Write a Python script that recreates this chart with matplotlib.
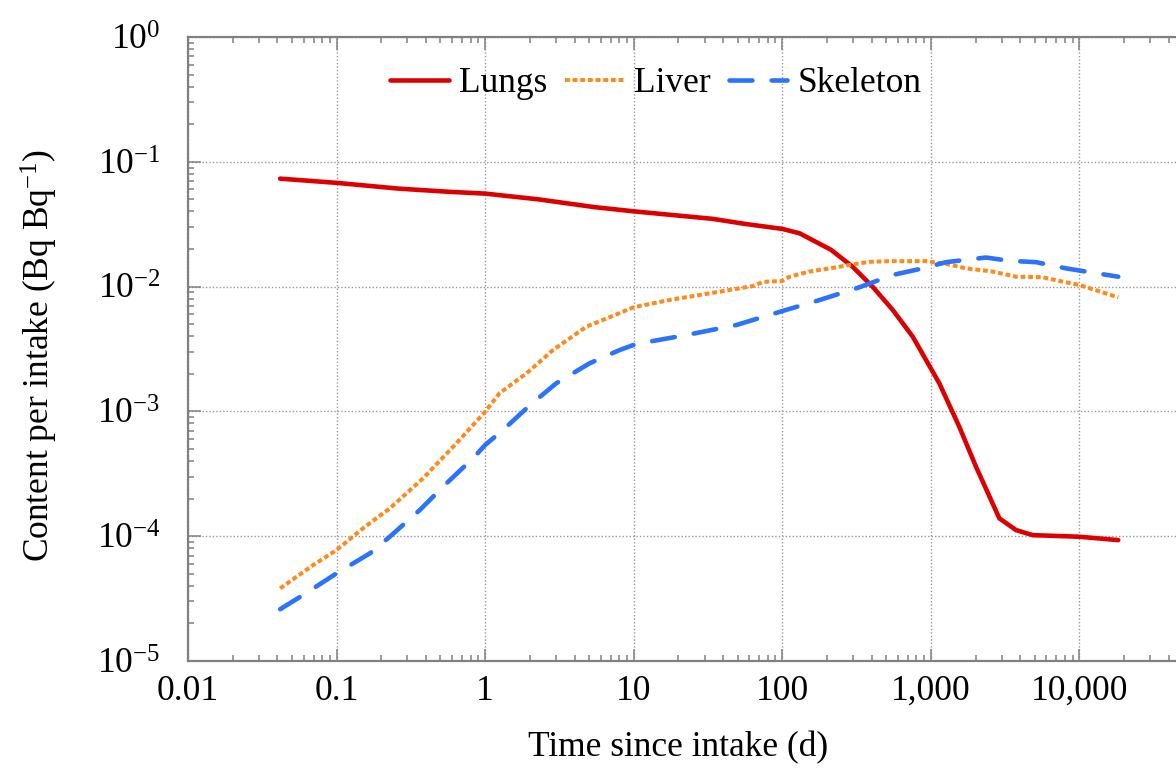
"""Retention of an inhaled radionuclide in lungs, liver and skeleton.

Log-log plot of content per unit intake against time since intake.
Writes out.png (1176x768).
"""
import matplotlib
matplotlib.use("Agg")
import matplotlib.pyplot as plt
from matplotlib.ticker import FixedLocator, FixedFormatter, LogLocator, NullFormatter

# --- Data ---
# time since intake in days, content per intake in Bq/Bq
lungs_t = [0.0417, 0.1, 0.26, 0.57, 1.0, 2.26, 5.46, 10, 34, 56, 100, 131, 213, 298,
           406, 554, 755, 1140, 1556, 2014, 2891, 3743, 4842, 10000, 18250]
lungs_v = [0.0733, 0.0678, 0.061, 0.0575, 0.0556, 0.0501, 0.0433, 0.0401, 0.0349, 0.0318,
           0.029, 0.0267, 0.0197, 0.0144, 0.00996, 0.0065, 0.00397, 0.00168, 7.5e-4,
           3.6e-4, 1.39e-4, 1.12e-4, 1.02e-4, 9.9e-5, 9.3e-5]

liver_t = [0.0417, 0.0697, 0.1, 0.151, 0.228, 0.382, 0.641, 1.0, 1.25, 1.90, 2.86, 4.80,
           10, 17.4, 37.8, 63.4, 74, 100, 112, 152, 208, 283, 386, 554, 929, 1266, 1726,
           2607, 3743, 5650, 7313, 10000, 18250]
liver_v = [3.82e-5, 5.88e-5, 7.75e-5, 1.16e-4, 1.67e-4, 2.91e-4, 5.55e-4, 9.95e-4, 1.40e-3,
           2.02e-3, 3.10e-3, 4.77e-3, 6.83e-3, 7.81e-3, 9.1e-3, 0.0101, 0.0109, 0.0111,
           0.0120, 0.0132, 0.0140, 0.0149, 0.0158, 0.0160, 0.0160, 0.0152, 0.0140, 0.0132,
           0.0120, 0.0119, 0.0111, 0.0103, 0.0082]

skeleton_t = [0.0417, 0.0596, 0.1, 0.168, 0.228, 0.363, 0.549, 0.829, 1.0, 1.32, 2.0, 3.01,
              5.05, 8.03, 10.4, 22.6, 49, 106, 178, 330, 554, 881, 1266, 2350, 3370, 5100,
              8110, 11060, 18250]
skeleton_v = [2.6e-5, 3.38e-5, 5.04e-5, 7.3e-5, 9.9e-5, 1.62e-4, 2.65e-4, 4.21e-4, 5.38e-4,
              7.1e-4, 1.12e-3, 1.68e-3, 2.43e-3, 3.10e-3, 3.47e-3, 4.09e-3, 4.92e-3, 6.5e-3,
              7.8e-3, 9.87e-3, 0.0124, 0.0140, 0.0157, 0.0171, 0.0161, 0.0157, 0.0140,
              0.0132, 0.0120]

# the 100,000 tick sits past the cropped right edge, so it carries no label
x_ticks = [0.01, 0.1, 1, 10, 100, 1000, 10000, 100000]
x_labels = ["0.01", "0.1", "1", "10", "100", "1,000", "10,000", ""]
y_ticks = [1e-5, 1e-4, 1e-3, 1e-2, 1e-1, 1]
y_labels = [r"$\mathrm{10^{-5}}$", r"$\mathrm{10^{-4}}$", r"$\mathrm{10^{-3}}$",
            r"$\mathrm{10^{-2}}$", r"$\mathrm{10^{-1}}$", r"$\mathrm{10^{0}}$"]

# --- Style ---
plt.rcParams["font.family"] = ["Liberation Serif", "DejaVu Serif"]
plt.rcParams["mathtext.fontset"] = "custom"
plt.rcParams["mathtext.rm"] = "Liberation Serif"
plt.rcParams["mathtext.it"] = "Liberation Serif:italic"
plt.rcParams["font.size"] = 25.5

axis_grey = "#808080"
fig = plt.figure(figsize=(11.76, 7.68), dpi=100)
# axes run past the right edge of the canvas, like the original crop
ax = fig.add_axes([188 / 1176, 107 / 768, 1040 / 1176, 624 / 768])

ax.plot(lungs_t, lungs_v, color="#DD0000", lw=3.3, solid_capstyle="round",
        solid_joinstyle="round", label="Lungs")
ax.plot(liver_t, liver_v, color="#FF8A1C", lw=2.9, dashes=(1.2, 0.7),
        label="Liver")
ax.plot(skeleton_t, skeleton_v, color="#2B72FF", lw=3.3, dashes=(5, 4.2),
        dash_capstyle="round", label="Skeleton")

ax.set_xscale("log")
ax.set_yscale("log")
ax.set_xlim(0.01, 1e5)
ax.set_ylim(1e-5, 1)

ax.xaxis.set_major_locator(FixedLocator(x_ticks))
ax.xaxis.set_major_formatter(FixedFormatter(x_labels))
ax.yaxis.set_major_locator(FixedLocator(y_ticks))
ax.yaxis.set_major_formatter(FixedFormatter(y_labels))
for axis in (ax.xaxis, ax.yaxis):
    axis.set_minor_locator(LogLocator(base=10, subs=range(2, 10), numticks=20))
    axis.set_minor_formatter(NullFormatter())

for spine in ax.spines.values():
    spine.set_color(axis_grey)
    spine.set_linewidth(1.6)
ax.tick_params(which="both", direction="in", top=True, right=True, color=axis_grey,
               width=1.1)
ax.tick_params(which="major", length=9)
ax.tick_params(which="minor", length=4.5)
ax.tick_params(axis="x", which="major", pad=10)
ax.tick_params(axis="y", which="major", pad=20)

ax.grid(True, which="major", color="#999999", linestyle=(0, (1, 1.5)), linewidth=1.0)

ax.set_xlabel("Time since intake (d)")
ax.set_ylabel(r"Content per intake (Bq Bq$^{\mathrm{-1}}$)")
ax.xaxis.set_label_coords(490 / 1040, -0.112)
ax.yaxis.set_label_coords(-128 / 1040, 0.49)

fig.legend(loc="center", bbox_to_anchor=(656 / 1176, 1 - 84 / 768), ncol=3,
           frameon=False, handlelength=1.65, handletextpad=0.3, columnspacing=0.5)

fig.savefig("out.png", dpi=100)
